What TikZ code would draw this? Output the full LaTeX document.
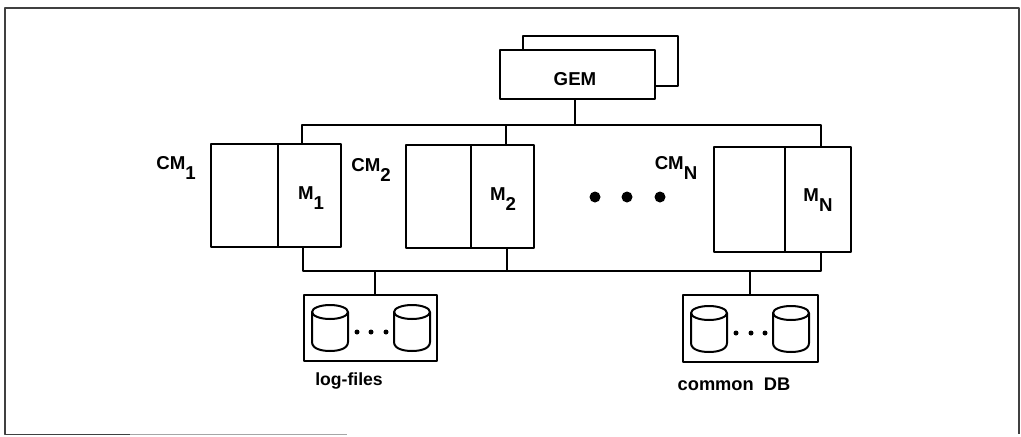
\documentclass[tikz,border=0pt]{standalone}
\usepackage{fontspec}
\setmainfont{Liberation Sans}
\usetikzlibrary{positioning}
\newcommand{\low}[1]{\raisebox{-7pt}{#1}}
\tikzset{
  every picture/.style={line width=1.5pt, line join=round},
  every node/.style={font=\fontsize{14pt}{16pt}\selectfont\bfseries},
  % Linientypen
  frameline/.style={line width=1.2pt, black!75},
  fadeline/.style={line width=0.7pt, black!35},
  % Kaesten
  box/.style 2 args={draw, fill=white, inner sep=0pt, outer sep=0pt,
    minimum width=#1*0.75pt, minimum height=#2*0.75pt},
  dot/.style={circle, fill=black, inner sep=0pt, outer sep=0pt, minimum size=#1*0.75pt},
  dot/.default=5,
  lbl/.style={inner sep=0pt},
  disk/.pic={
    \draw (-18,0) -- (-18,30) .. controls (-18,37) and (-8,39) .. (0,39)
      .. controls (8,39) and (18,37) .. (18,30) -- (18,0);
    \draw (0,0) circle[x radius=18, y radius=7];
  },
}
\begin{document}
\begin{tikzpicture}[x=0.75pt, y=-0.75pt]
  \useasboundingbox (0,0) rectangle (1021,436);
  % ---------- Rahmen ----------
  \draw[frameline] (130,434.5) -- (5,434.5) -- (5,8) -- (1019,8) -- (1019,434);
  \draw[fadeline] (130,434.5) -- (347,434.5);
  % ---------- GEM ----------
  \node[box={155}{50}] (gemback) at (600,61) {};
  \node[box={155}{49}] (gem) at (577.5,74.5) {};
  \node[lbl] (gemtxt) at (575,79) {GEM};
  % ---------- Rechnerknoten ----------
  \node[box={67}{103}] (cpua) at (244.5,195.5) {};
  \node[box={63}{103}, right=0pt of cpua] (mema) {};
  \node[box={65}{103}] (cpub) at (438.5,196.5) {};
  \node[box={63}{103}, right=0pt of cpub] (memb) {};
  \node[box={71}{105}] (cpuc) at (749.5,199.5) {};
  \node[box={66}{105}, right=0pt of cpuc] (memc) {};
  \node[lbl] (ma) at (311,198) {M\low{1}};
  \node[lbl] (mb) at (503,199) {M\low{2}};
  \node[lbl] (mc) at (818,200) {M\low{N}};
  \node[lbl] (cma) at (176,168) {CM\low{1}};
  \node[lbl] (cmb) at (371,170) {CM\low{2}};
  \node[lbl] (cmc) at (676,168) {CM\low{N}};
  \foreach \k/\px in {a/595, b/627, c/660}
    \node[dot=11] (big\k) at (\px,197) {};
  % ---------- Busse ----------
  \coordinate (topa) at (302,125);
  \coordinate (topb) at (506,125);
  \coordinate (topg) at (575,125);
  \coordinate (topc) at (821,125);
  \coordinate (bota) at (303,271);
  \coordinate (botb) at (507,271);
  \coordinate (botl) at (375,271);
  \coordinate (botd) at (750,271);
  \coordinate (botc) at (821,271);
  \draw (gem.south -| topg) -- (topg);
  \draw (mema.north -| topa) -- (topa) -- (topc) -- (memc.north -| topc);
  \draw (topb) -- (memb.north -| topb);
  \draw (mema.south -| bota) -- (bota) -- (botc) -- (memc.south -| botc);
  \draw (memb.south -| botb) -- (botb);
  % ---------- Platten ----------
  \node[box={133}{66}] (logbox) at (370.5,328) {};
  \node[box={135}{67}] (dbbox) at (750.5,328.5) {};
  \draw (botl) -- (logbox.north -| botl);
  \draw (botd) -- (dbbox.north -| botd);
  \foreach \dx/\dy in {330/312, 412/312, 709/313, 791/313}
    \pic at (\dx,\dy) {disk};
  \foreach \k/\px/\py in {a/357/332, b/371/332, c/386/332, d/736/333, e/751/333, f/765/333}
    \node[dot] (small\k) at (\px,\py) {};
  \node[lbl, font=\fontsize{13.2pt}{16pt}\selectfont\bfseries] (logtxt) at (349,381) {log-files};
  \node[lbl, font=\fontsize{13.7pt}{16pt}\selectfont\bfseries] (dbtxt) at (734,384) {common\ \ DB};
\end{tikzpicture}
\end{document}
